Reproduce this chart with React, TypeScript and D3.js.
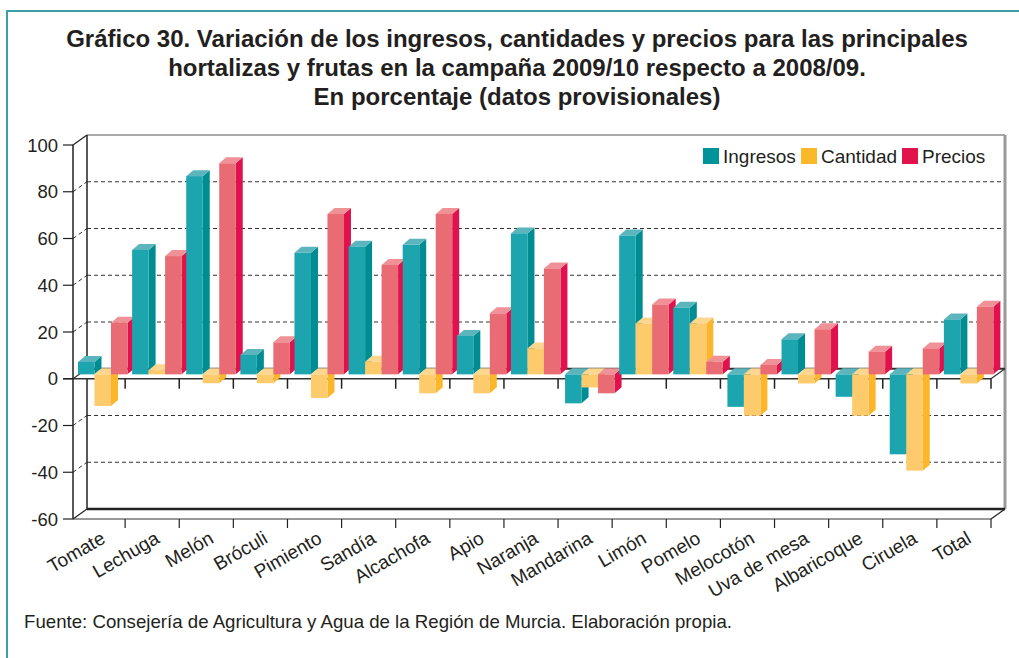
import { useEffect, useRef } from "react";
import * as d3 from "d3";

const categories = [
  "Tomate", "Lechuga", "Melón", "Bróculi", "Pimiento", "Sandía", "Alcachofa", "Apio",
  "Naranja", "Mandarina", "Limón", "Pomelo", "Melocotón", "Uva de mesa", "Albaricoque",
  "Ciruela", "Total",
];
const ingresos = [5.3, 53.2, 84.8, 8.3, 52.0, 54.6, 55.4, 16.4, 60.3, -12.4, 59.4, 28.5, -13.9, 15.0, -9.6, -34.2, 23.5];
const cantidad = [-13.5, 1.8, -3.8, -3.8, -10.1, 5.4, -8.1, -8.1, 11.1, -5.6, 21.8, 21.8, -17.7, -3.9, -17.7, -41.2, -3.9];
const precios = [22.1, 50.6, 90.3, 13.7, 68.6, 46.8, 68.6, 26.1, 45.3, -8.1, 29.9, 5.4, 4.0, 19.3, 9.7, 11.1, 28.9];
const seriesNames = ["Ingresos", "Cantidad", "Precios"];
const yTicks = [100, 80, 60, 40, 20, 0, -20, -40, -60];
const titleLines = [
  "Gráfico 30. Variación de los ingresos, cantidades y precios para las principales",
  "hortalizas y frutas en la campaña 2009/10 respecto a 2008/09.",
  "En porcentaje (datos provisionales)",
];
const source = "Fuente: Consejería de Agricultura y Agua de la Región de Murcia. Elaboración propia.";

// front / side / top shades per series
const palette = [
  { legend: "#00939b", front: "#1ca5af", side: "#008c93", top: "#5cb4bd" },
  { legend: "#fbb829", front: "#fdca6c", side: "#fbb62a", top: "#fdd78f" },
  { legend: "#e2124b", front: "#e96b73", side: "#e0114c", top: "#ef9196" },
];

const font = "'Liberation Sans', Arial, Helvetica, sans-serif";

const App = () => {
  const ref = useRef<SVGSVGElement>(null);

  useEffect(() => {
    const svg = d3.select(ref.current);
    svg.selectAll("*").remove();

    const axisX = 73;
    const right = 991;
    const wallDx = 14;
    const wallDy = -10;
    const barDx = 7;
    const barDy = -6;
    const barShiftY = -4.4;
    const bw = 16.5;

    const y = d3.scaleLinear().domain([-60, 100]).range([519, 145]);
    const x = d3.scaleBand<string>().domain(categories).range([71, right]);

    // outer frame
    svg.append("path")
      .attr("d", `M7,660 L7,11 L1019,11`)
      .attr("fill", "none")
      .attr("stroke", "#3a9fa7")
      .attr("stroke-width", 2);

    // title
    svg.append("g")
      .selectAll("text")
      .data(titleLines)
      .join("text")
      .attr("x", 517)
      .attr("y", (d, i) => 47 + i * 29)
      .attr("text-anchor", "middle")
      .attr("font-family", font)
      .attr("font-weight", "bold")
      .attr("font-size", 24)
      .attr("fill", "#231f20")
      .text((d) => d);

    const bx0 = axisX + wallDx;
    const bx1 = right + wallDx;
    const inner = yTicks.filter((v) => v !== 100 && v !== 0 && v !== -60);

    // back wall gridlines
    svg.append("g")
      .selectAll("line")
      .data(inner)
      .join("line")
      .attr("x1", bx0)
      .attr("x2", bx1)
      .attr("y1", (d) => y(d) + wallDy)
      .attr("y2", (d) => y(d) + wallDy)
      .attr("stroke", "#333")
      .attr("stroke-dasharray", "4,3");

    // side wall gridlines
    svg.append("g")
      .selectAll("line")
      .data(inner)
      .join("line")
      .attr("x1", axisX)
      .attr("x2", bx0)
      .attr("y1", (d) => y(d))
      .attr("y2", (d) => y(d) + wallDy)
      .attr("stroke", "#333")
      .attr("stroke-dasharray", "4,3");

    // wall frame
    svg.append("line").attr("x1", bx0).attr("x2", bx1).attr("y1", y(100) + wallDy).attr("y2", y(100) + wallDy)
      .attr("stroke", "#555").attr("stroke-width", 1);
    svg.append("line").attr("x1", bx1).attr("x2", bx1).attr("y1", y(100) + wallDy).attr("y2", y(-60) + wallDy)
      .attr("stroke", "#999").attr("stroke-width", 3);
    svg.append("line").attr("x1", bx0).attr("x2", bx0).attr("y1", y(100) + wallDy).attr("y2", y(-60) + wallDy)
      .attr("stroke", "#222").attr("stroke-width", 1.5);
    svg.append("line").attr("x1", bx0).attr("x2", bx1).attr("y1", y(-60) + wallDy).attr("y2", y(-60) + wallDy)
      .attr("stroke", "#222").attr("stroke-width", 2.5);
    svg.append("line").attr("x1", axisX).attr("x2", bx0).attr("y1", y(100)).attr("y2", y(100) + wallDy)
      .attr("stroke", "#222").attr("stroke-width", 1.2);
    svg.append("line").attr("x1", axisX).attr("x2", bx0).attr("y1", y(-60)).attr("y2", y(-60) + wallDy)
      .attr("stroke", "#222").attr("stroke-width", 1.2);
    svg.append("line").attr("x1", right).attr("x2", bx1).attr("y1", y(-60)).attr("y2", y(-60) + wallDy)
      .attr("stroke", "#222").attr("stroke-width", 1.2);

    // floor at zero
    svg.append("path")
      .attr("d", `M${axisX},${y(0)} L${bx0},${y(0) + wallDy} L${bx1},${y(0) + wallDy} L${right},${y(0)} Z`)
      .attr("fill", "#fff")
      .attr("stroke", "none");
    svg.append("line").attr("x1", bx0).attr("x2", bx1).attr("y1", y(0) + wallDy).attr("y2", y(0) + wallDy)
      .attr("stroke", "#333").attr("stroke-width", 2);
    svg.append("line").attr("x1", axisX).attr("x2", bx0).attr("y1", y(0)).attr("y2", y(0) + wallDy)
      .attr("stroke", "#333").attr("stroke-width", 1.2);
    svg.append("line").attr("x1", right).attr("x2", bx1).attr("y1", y(0)).attr("y2", y(0) + wallDy)
      .attr("stroke", "#333").attr("stroke-width", 1.2);
    svg.append("line").attr("x1", 63).attr("x2", right).attr("y1", y(0)).attr("y2", y(0))
      .attr("stroke", "#333").attr("stroke-width", 1.5);

    const boundaries = categories.map((c) => (x(c) ?? 0) + x.bandwidth());
    svg.append("g")
      .selectAll("line")
      .data(boundaries)
      .join("line")
      .attr("x1", (d) => d)
      .attr("x2", (d) => d)
      .attr("y1", y(0))
      .attr("y2", y(0) + 10)
      .attr("stroke", "#222")
      .attr("stroke-width", 1.5);

    // front axes
    svg.append("line").attr("x1", axisX).attr("x2", axisX).attr("y1", y(100)).attr("y2", y(-60))
      .attr("stroke", "#222").attr("stroke-width", 1.5);
    svg.append("line").attr("x1", axisX).attr("x2", right).attr("y1", y(-60)).attr("y2", y(-60))
      .attr("stroke", "#333").attr("stroke-width", 1);
    svg.append("g")
      .selectAll("line")
      .data(boundaries)
      .join("line")
      .attr("x1", (d) => d)
      .attr("x2", (d) => d)
      .attr("y1", y(-60))
      .attr("y2", y(-60) + 9)
      .attr("stroke", "#222")
      .attr("stroke-width", 1.2);

    const yAxis = svg.append("g");
    yAxis.selectAll("line")
      .data(yTicks)
      .join("line")
      .attr("x1", 63)
      .attr("x2", axisX)
      .attr("y1", (d) => y(d))
      .attr("y2", (d) => y(d))
      .attr("stroke", "#222")
      .attr("stroke-width", 1.2);
    yAxis.selectAll("text")
      .data(yTicks)
      .join("text")
      .attr("x", 58)
      .attr("y", (d) => y(d) + 6.5)
      .attr("text-anchor", "end")
      .attr("font-family", font)
      .attr("font-size", 18.5)
      .attr("fill", "#231f20")
      .text((d) => d);

    // bars
    const series = [ingresos, cantidad, precios];
    const bars = svg.append("g");
    categories.forEach((c, ci) => {
      series.forEach((vals, si) => {
        const v = vals[ci];
        const x0 = (x(c) ?? 0) + 7 + si * bw;
        const x1 = x0 + bw;
        const yt = y(Math.max(v, 0)) + barShiftY;
        const yb = y(Math.min(v, 0)) + barShiftY;
        const col = palette[si];
        bars.append("path")
          .attr("d", `M${x1},${yt} L${x1 + barDx},${yt + barDy} L${x1 + barDx},${yb + barDy} L${x1},${yb} Z`)
          .attr("fill", col.side);
        bars.append("path")
          .attr("d", `M${x0},${yt} L${x0 + barDx},${yt + barDy} L${x1 + barDx},${yt + barDy} L${x1},${yt} Z`)
          .attr("fill", col.top);
        bars.append("rect")
          .attr("x", x0)
          .attr("y", yt)
          .attr("width", bw)
          .attr("height", Math.max(0, yb - yt))
          .attr("fill", col.front);
      });
    });

    // category labels
    svg.append("g")
      .selectAll("text")
      .data(categories)
      .join("text")
      .attr("transform", (d) => `translate(${(x(d) ?? 0) + x.bandwidth() / 2 + 8.5},542) rotate(-30)`)
      .attr("text-anchor", "end")
      .attr("font-family", font)
      .attr("font-size", 19)
      .attr("fill", "#231f20")
      .text((d) => d);

    // legend
    const legendX = [703, 801, 902];
    const legend = svg.append("g");
    seriesNames.forEach((name, i) => {
      legend.append("rect")
        .attr("x", legendX[i])
        .attr("y", 148)
        .attr("width", 16)
        .attr("height", 16)
        .attr("fill", palette[i].legend);
      legend.append("text")
        .attr("x", legendX[i] + 20)
        .attr("y", 163)
        .attr("font-family", font)
        .attr("font-size", 19)
        .attr("fill", "#231f20")
        .text(name);
    });

    // source note
    svg.append("text")
      .attr("x", 24)
      .attr("y", 628)
      .attr("font-family", font)
      .attr("font-size", 19)
      .attr("textLength", 708)
      .attr("lengthAdjust", "spacingAndGlyphs")
      .attr("fill", "#231f20")
      .text(source);
  }, []);

  return (
    <svg
      ref={ref}
      width={1019}
      height={658}
      style={{ position: "absolute", left: 0, top: 0, background: "#fff" }}
    />
  );
};

export default App;
